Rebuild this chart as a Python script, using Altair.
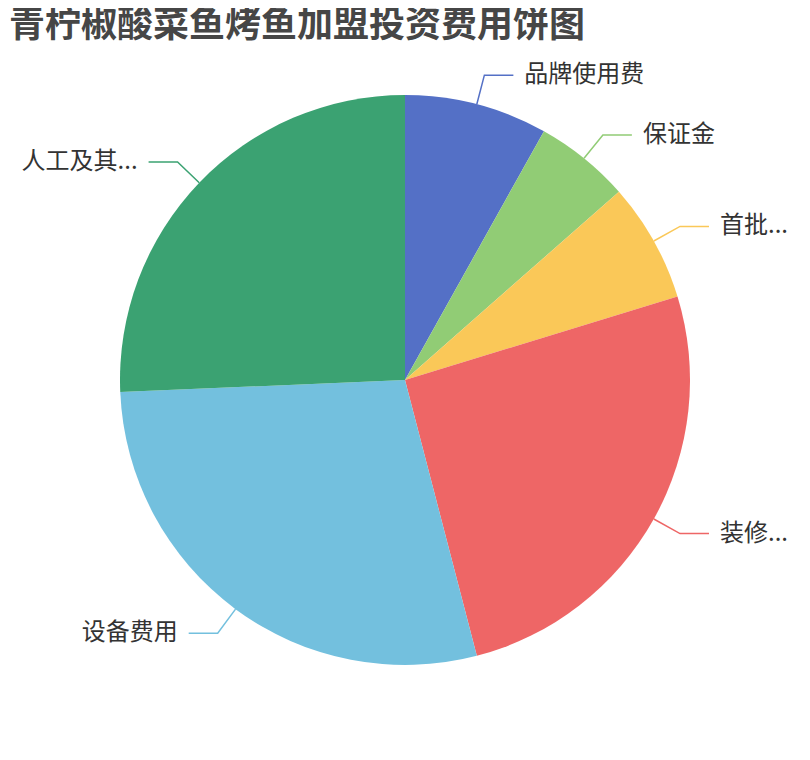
import math
import altair as alt
import pandas as pd

# ---- data ----
names = ["品牌使用费", "保证金", "首批...", "装修...", "设备费用", "人工及其..."]
values = [3, 2, 2.5, 9.5, 10.5, 9.5]
colors = ["#5470c6", "#91cc75", "#fac858", "#ee6666", "#73c0de", "#3ba272"]
title_text = "青柠椒酸菜鱼烤鱼加盟投资费用饼图"

# ---- layout ----
PAD_TOP = 10
W, H = 794, 734
CX, CY = 397, 362
R = 285
R_ELBOW = 315
SEG = 29
GAP = 11

pie_df = pd.DataFrame({"name": names, "value": values, "idx": list(range(len(names)))})

# leader line geometry derived from the values
total = sum(values)
line_rows, label_rows = [], []
cum = 0.0
for i, (n, v) in enumerate(zip(names, values)):
    mid = (cum + v / 2) / total * 2 * math.pi
    cum += v
    s, c = math.sin(mid), math.cos(mid)
    right = s >= 0
    p0 = (CX + R * s, CY - R * c)
    p1 = (CX + R_ELBOW * s, CY - R_ELBOW * c)
    p2 = (p1[0] + (SEG if right else -SEG), p1[1])
    for k, p in enumerate([p0, p1, p2]):
        line_rows.append({"name": n, "k": k, "x": p[0], "y": p[1]})
    label_rows.append({"name": n, "x": p2[0] + (GAP if right else -GAP), "y": p2[1],
                       "side": "right" if right else "left"})
line_df = pd.DataFrame(line_rows)
label_df = pd.DataFrame(label_rows)

color_scale = alt.Scale(domain=names, range=colors)
xs = alt.Scale(domain=[0, W], nice=False, zero=False)
ys = alt.Scale(domain=[0, H], nice=False, zero=False, reverse=True)

pie = alt.Chart(pie_df).mark_arc(outerRadius=R, stroke=None).encode(
    theta=alt.Theta("value:Q", stack=True),
    color=alt.Color("name:N", scale=color_scale, legend=None),
    order=alt.Order("idx:Q"),
    x=alt.value(CX),
    y=alt.value(CY),
)

lines = alt.Chart(line_df).mark_line(strokeWidth=1.5).encode(
    x=alt.X("x:Q", scale=xs, axis=None),
    y=alt.Y("y:Q", scale=ys, axis=None),
    color=alt.Color("name:N", scale=color_scale, legend=None),
    detail="name:N",
    order="k:Q",
)

FONT = "Noto Sans CJK SC"
lab_right = alt.Chart(label_df).transform_filter(alt.datum.side == "right").mark_text(
    align="left", baseline="middle", fontSize=24, font=FONT, color="#333333"
).encode(x=alt.X("x:Q", scale=xs, axis=None), y=alt.Y("y:Q", scale=ys, axis=None), text="name:N")

lab_left = alt.Chart(label_df).transform_filter(alt.datum.side == "left").mark_text(
    align="right", baseline="middle", fontSize=24, font=FONT, color="#333333"
).encode(x=alt.X("x:Q", scale=xs, axis=None), y=alt.Y("y:Q", scale=ys, axis=None), text="name:N")

title = alt.Chart(pd.DataFrame({"t": [title_text]})).mark_text(
    align="left", baseline="middle", fontSize=36, fontWeight="bold", font=FONT, color="#464646"
).encode(x=alt.value(1), y=alt.value(8), text="t:N")

chart = alt.layer(pie, lines, lab_right, lab_left, title).properties(
    width=W, height=H, autosize=alt.AutoSizeParams(type="none"),
    padding={"top": PAD_TOP, "left": 0, "right": 0, "bottom": 0}
).configure_view(strokeWidth=0)

chart.save("out.html", embed_options={"renderer": "svg", "actions": False})
